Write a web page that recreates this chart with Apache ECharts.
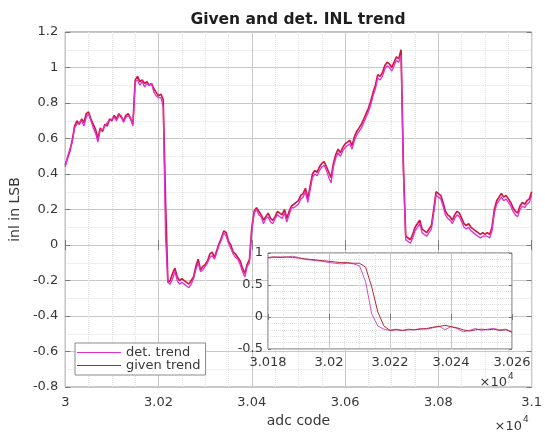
<!DOCTYPE html>
<html>
<head>
<meta charset="utf-8">
<script src="https://cdn.jsdelivr.net/npm/echarts@6/dist/echarts.min.js"></script>
<style>
  html, body { margin: 0; padding: 0; background: #fff; }
  #chart { width: 545px; height: 433px; }
</style>
</head>
<body>
<div id="chart"></div>
<script>
// INL trend over adc codes 30000..31000, sampled every 5 codes
const MAIN_START = 30000;
const MAIN_STEP = 5;

const givenMain = [
  0.45, 0.49, 0.53, 0.59, 0.67, 0.70, 0.68, 0.71, 0.69, 0.74,
  0.75, 0.71, 0.68, 0.65, 0.60, 0.66, 0.64, 0.68, 0.67, 0.71,
  0.70, 0.73, 0.71, 0.74, 0.72, 0.70, 0.73, 0.74, 0.71, 0.68,
  0.93, 0.95, 0.92, 0.93, 0.91, 0.92, 0.90, 0.91, 0.88, 0.86,
  0.84, 0.85, 0.82, 0.25, -0.21, -0.20, -0.16, -0.13, -0.18, -0.20,
  -0.19, -0.20, -0.21, -0.22, -0.20, -0.18, -0.12, -0.08, -0.14, -0.12,
  -0.11, -0.09, -0.05, -0.04, -0.07, -0.03, 0.01, 0.04, 0.08, 0.07,
  0.02, 0.00, -0.04, -0.05, -0.07, -0.09, -0.13, -0.16, -0.11, -0.08,
  0.10, 0.19, 0.21, 0.19, 0.17, 0.14, 0.16, 0.18, 0.15, 0.14,
  0.16, 0.19, 0.18, 0.17, 0.20, 0.15, 0.19, 0.22, 0.23, 0.24,
  0.25, 0.28, 0.29, 0.32, 0.26, 0.33, 0.40, 0.42, 0.41, 0.44,
  0.46, 0.47, 0.44, 0.41, 0.38, 0.46, 0.51, 0.54, 0.52, 0.55,
  0.57, 0.58, 0.59, 0.56, 0.61, 0.64, 0.66, 0.68, 0.71, 0.74,
  0.77, 0.81, 0.86, 0.90, 0.96, 0.95, 0.97, 1.01, 1.03, 1.02,
  1.00, 1.03, 1.06, 1.05, 1.10, 0.45, 0.05, 0.04, 0.03, 0.06,
  0.10, 0.12, 0.14, 0.09, 0.08, 0.07, 0.09, 0.11, 0.20, 0.30,
  0.29, 0.28, 0.24, 0.19, 0.17, 0.16, 0.14, 0.17, 0.19, 0.18,
  0.15, 0.12, 0.11, 0.12, 0.10, 0.09, 0.08, 0.07, 0.06, 0.07,
  0.06, 0.07, 0.06, 0.10, 0.20, 0.25, 0.27, 0.29, 0.27, 0.28,
  0.26, 0.24, 0.21, 0.19, 0.18, 0.22, 0.24, 0.23, 0.25, 0.26, 0.30
];

const detMain = [
  0.44, 0.50, 0.54, 0.58, 0.66, 0.68, 0.69, 0.70, 0.67, 0.72,
  0.74, 0.70, 0.66, 0.63, 0.58, 0.65, 0.65, 0.67, 0.69, 0.70,
  0.71, 0.72, 0.70, 0.73, 0.73, 0.69, 0.72, 0.73, 0.72, 0.67,
  0.92, 0.93, 0.90, 0.92, 0.89, 0.91, 0.90, 0.91, 0.86, 0.84,
  0.83, 0.83, 0.78, 0.05, -0.21, -0.22, -0.19, -0.15, -0.20, -0.22,
  -0.21, -0.22, -0.23, -0.24, -0.22, -0.19, -0.14, -0.10, -0.15, -0.14,
  -0.12, -0.10, -0.07, -0.06, -0.08, -0.04, 0.00, 0.03, 0.07, 0.05,
  0.01, -0.02, -0.05, -0.07, -0.08, -0.11, -0.15, -0.18, -0.12, -0.10,
  0.08, 0.18, 0.20, 0.17, 0.16, 0.12, 0.15, 0.16, 0.13, 0.12,
  0.15, 0.17, 0.16, 0.15, 0.18, 0.13, 0.17, 0.21, 0.21, 0.22,
  0.23, 0.26, 0.27, 0.30, 0.24, 0.31, 0.38, 0.40, 0.39, 0.42,
  0.44, 0.45, 0.42, 0.38, 0.35, 0.44, 0.49, 0.52, 0.50, 0.53,
  0.55, 0.56, 0.57, 0.54, 0.59, 0.62, 0.64, 0.66, 0.69, 0.72,
  0.75, 0.79, 0.84, 0.88, 0.94, 0.93, 0.95, 0.99, 1.01, 1.00,
  0.98, 1.01, 1.04, 1.03, 1.07, 0.40, 0.03, 0.02, 0.01, 0.04,
  0.08, 0.10, 0.12, 0.07, 0.06, 0.05, 0.07, 0.09, 0.18, 0.28,
  0.27, 0.26, 0.22, 0.17, 0.15, 0.14, 0.12, 0.15, 0.17, 0.16,
  0.13, 0.10, 0.09, 0.10, 0.08, 0.07, 0.06, 0.05, 0.04, 0.05,
  0.05, 0.05, 0.04, 0.08, 0.18, 0.23, 0.25, 0.27, 0.25, 0.26,
  0.24, 0.22, 0.19, 0.17, 0.16, 0.20, 0.22, 0.21, 0.23, 0.24, 0.28
];

// Close-up around the first step, codes 30180..30260 every 2 codes
const ZOOM_START = 30180;
const ZOOM_STEP = 2;

const givenZoom = [
  0.93, 0.94, 0.93, 0.94, 0.93, 0.92, 0.91, 0.90, 0.89, 0.88,
  0.87, 0.86, 0.85, 0.85, 0.84, 0.84, 0.78, 0.47, 0.08, -0.14,
  -0.21, -0.20, -0.21, -0.20, -0.20, -0.19, -0.18, -0.16, -0.15, -0.13,
  -0.15, -0.17, -0.20, -0.22, -0.20, -0.19, -0.20, -0.19, -0.21, -0.20, -0.24
];

const detZoom = [
  0.92, 0.93, 0.94, 0.93, 0.95, 0.93, 0.90, 0.89, 0.88, 0.87,
  0.85, 0.84, 0.83, 0.84, 0.83, 0.80, 0.55, 0.05, -0.14, -0.19,
  -0.21, -0.19, -0.21, -0.19, -0.20, -0.18, -0.19, -0.17, -0.14, -0.20,
  -0.15, -0.18, -0.23, -0.21, -0.18, -0.21, -0.19, -0.18, -0.20, -0.19, -0.23
];

const mainXTicks = { min: 30000, max: 31000, interval: 200 };
const mainYTicks = { min: -0.8, max: 1.2, interval: 0.2 };
const zoomXTicks = { min: 30180, max: 30260, interval: 20 };
const zoomYTicks = { min: -0.5, max: 1, interval: 0.5 };

const seriesNames = ['det. trend', 'given trend'];

// ---- styling ----
const FONT = 'DejaVu Sans';
const AXIS_COLOR = '#7a7a7a';
const LABEL_COLOR = '#383838';
const GRID_COLOR = '#c8c8c8';
const MINOR_COLOR = '#e0e0e0';
const DET_COLOR = '#e030d0';
const GIVEN_COLOR = '#d01848';

function toPairs(start, step, values) {
  return values.map((v, i) => [start + i * step, v]);
}
const sci = v => String(parseFloat((v / 1e4).toFixed(4)));
const plain = v => String(parseFloat(v.toFixed(3)));

function valueAxis(gridIndex, ticks, opts) {
  const labelled = opts.labelled;
  return Object.assign({
    gridIndex,
    type: 'value',
    min: ticks.min,
    max: ticks.max,
    interval: ticks.interval,
    axisLine: { show: false },
    axisTick: { show: true, inside: true, length: opts.tickLen, lineStyle: { color: AXIS_COLOR } },
    minorTick: { show: false, splitNumber: opts.minor },
    splitLine: { show: labelled, lineStyle: { color: GRID_COLOR, width: 1, type: 'solid' } },
    minorSplitLine: { show: labelled, lineStyle: { color: MINOR_COLOR, width: 1, type: 'dotted' } },
    axisLabel: {
      show: labelled,
      formatter: opts.formatter,
      color: LABEL_COLOR,
      fontFamily: FONT,
      fontSize: 13,
      margin: opts.margin || 8,
      showMinLabel: true,
      showMaxLabel: true
    },
    z: opts.z || 0
  }, opts.extra || {});
}

const chart = echarts.init(document.getElementById('chart'), null, { renderer: 'canvas' });

const option = {
  animation: false,
  backgroundColor: '#fff',
  grid: [
    { left: 63, top: 32, width: 470, height: 358, show: true, borderColor: AXIS_COLOR, borderWidth: 1, backgroundColor: 'transparent', z: 0 },
    { left: 268, top: 253, width: 244, height: 96, show: true, borderColor: '#666', borderWidth: 1, backgroundColor: '#fff', z: 5 }
  ],
  xAxis: [
    valueAxis(0, mainXTicks, { labelled: true, tickLen: 5, minor: 4, formatter: sci, margin: 9,
      extra: { position: 'bottom', name: 'adc code', nameLocation: 'middle', nameGap: 26,
        nameTextStyle: { fontFamily: FONT, fontSize: 14, color: LABEL_COLOR } } }),
    valueAxis(0, mainXTicks, { labelled: false, tickLen: 5, minor: 4, extra: { position: 'top' } }),
    valueAxis(1, zoomXTicks, { labelled: true, tickLen: 3, minor: 4, formatter: sci, margin: 7, z: 6,
      extra: { position: 'bottom' } }),
    valueAxis(1, zoomXTicks, { labelled: false, tickLen: 3, minor: 4, z: 6, extra: { position: 'top' } })
  ],
  yAxis: [
    valueAxis(0, mainYTicks, { labelled: true, tickLen: 5, minor: 2, formatter: plain, margin: 7,
      extra: { position: 'left', name: 'inl in LSB', nameLocation: 'middle', nameGap: 39,
        nameTextStyle: { fontFamily: FONT, fontSize: 14, color: LABEL_COLOR } } }),
    valueAxis(0, mainYTicks, { labelled: false, tickLen: 5, minor: 2, extra: { position: 'right' } }),
    valueAxis(1, zoomYTicks, { labelled: true, tickLen: 3, minor: 5, formatter: plain, margin: 5, z: 6,
      extra: { position: 'left' } }),
    valueAxis(1, zoomYTicks, { labelled: false, tickLen: 3, minor: 5, z: 6, extra: { position: 'right' } })
  ],
  legend: {
    orient: 'vertical',
    left: 75,
    top: 343,
    data: seriesNames,
    icon: 'rect',
    itemWidth: 44,
    itemHeight: 1.2,
    itemGap: 0,
    padding: [3, 5, 3, 2],
    borderColor: '#8a8a8a',
    borderWidth: 1,
    backgroundColor: '#fff',
    textStyle: { fontFamily: FONT, fontSize: 13, color: LABEL_COLOR },
    z: 10
  },
  graphic: [
    { type: 'text', x: 298, y: 20, z: 10,
      style: { text: 'Given and det. INL trend', font: 'bold 15.5px "DejaVu Sans"', fill: '#1e1e1e', textAlign: 'center', textVerticalAlign: 'middle' } },
    { type: 'text', x: 522, y: 427, z: 10,
      style: { text: '×10', font: '13px "DejaVu Sans"', fill: LABEL_COLOR, textAlign: 'right', textVerticalAlign: 'middle' } },
    { type: 'text', x: 523, y: 420, z: 10,
      style: { text: '4', font: '9px "DejaVu Sans"', fill: LABEL_COLOR, textAlign: 'left', textVerticalAlign: 'middle' } },
    { type: 'text', x: 507, y: 383, z: 10,
      style: { text: '×10', font: '13px "DejaVu Sans"', fill: LABEL_COLOR, textAlign: 'right', textVerticalAlign: 'middle' } },
    { type: 'text', x: 508, y: 377, z: 10,
      style: { text: '4', font: '9px "DejaVu Sans"', fill: LABEL_COLOR, textAlign: 'left', textVerticalAlign: 'middle' } }
  ],
  series: [
    { name: seriesNames[1], type: 'line', xAxisIndex: 0, yAxisIndex: 0, showSymbol: false, symbol: 'none',
      data: toPairs(MAIN_START, MAIN_STEP, givenMain), z: 2,
      lineStyle: { color: GIVEN_COLOR, width: 1.7 }, itemStyle: { color: GIVEN_COLOR } },
    { name: seriesNames[0], type: 'line', xAxisIndex: 0, yAxisIndex: 0, showSymbol: false, symbol: 'none',
      data: toPairs(MAIN_START, MAIN_STEP, detMain), z: 3,
      lineStyle: { color: DET_COLOR, width: 1.3 }, itemStyle: { color: DET_COLOR } },
    { name: seriesNames[0], type: 'line', xAxisIndex: 2, yAxisIndex: 2, showSymbol: false, symbol: 'none',
      data: toPairs(ZOOM_START, ZOOM_STEP, detZoom), z: 7,
      lineStyle: { color: '#d050c8', width: 1 }, itemStyle: { color: '#d050c8' } },
    { name: seriesNames[1], type: 'line', xAxisIndex: 2, yAxisIndex: 2, showSymbol: false, symbol: 'none',
      data: toPairs(ZOOM_START, ZOOM_STEP, givenZoom), z: 7,
      lineStyle: { color: '#b02a40', width: 1 }, itemStyle: { color: '#b02a40' } }
  ]
};

chart.setOption(option);
</script>
</body>
</html>
